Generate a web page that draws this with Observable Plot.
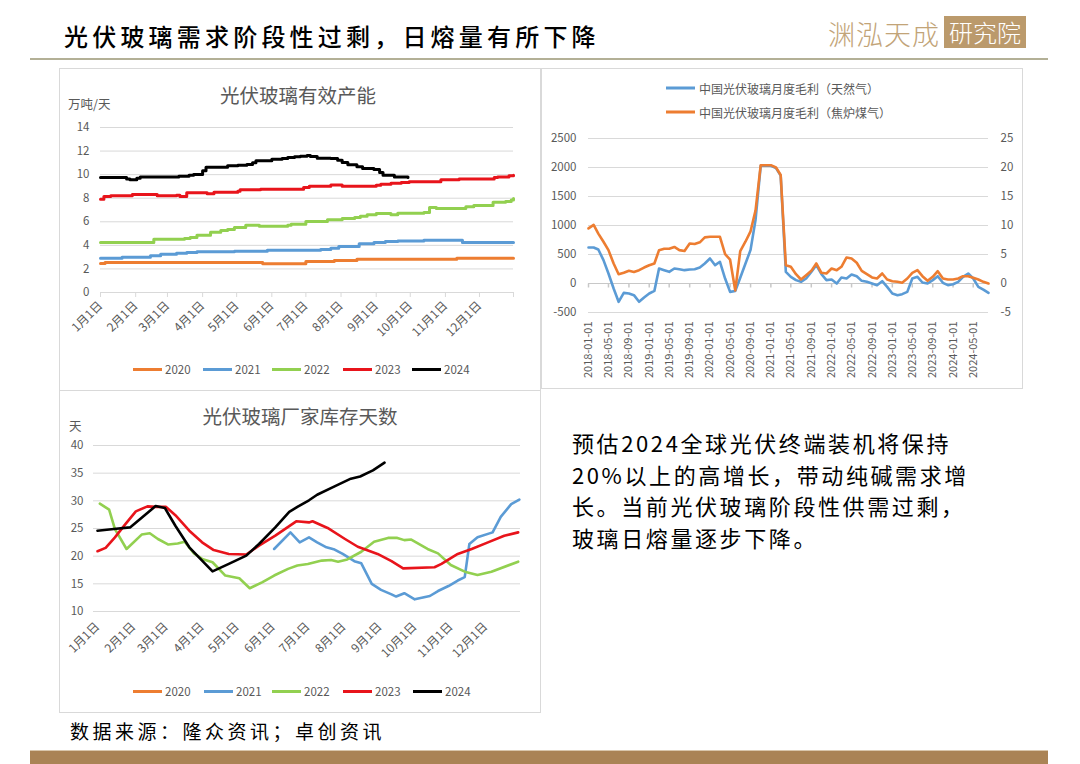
<!DOCTYPE html>
<html><head><meta charset="utf-8">
<script src="https://cdn.jsdelivr.net/npm/d3@7"></script>
<script src="https://cdn.jsdelivr.net/npm/@observablehq/plot@0.6"></script>
<style>
html,body{margin:0;padding:0;background:#fff}
body{width:1080px;height:764px;position:relative;overflow:hidden;font-family:"Noto Sans CJK SC","Noto Sans",sans-serif;color:#000}
.abs{position:absolute;white-space:nowrap}
.panel{position:absolute;border:1px solid #d9d9d9;box-sizing:border-box;background:#fff}
.chart{position:absolute}
.ctitle{position:absolute;font-size:19.5px;color:#595959;transform:translate(-50%,-50%);white-space:nowrap}
.unit{position:absolute;font-size:12.5px;color:#595959;transform:translateY(-50%);white-space:nowrap}
.leg{position:absolute;font-size:11.5px;color:#595959;white-space:nowrap;transform:translateY(-50%);display:flex;align-items:center}
.leg i{display:inline-block;width:29px;height:3px;margin-right:3px}
</style></head>
<body>
<script>
// ---------- data ----------
const pageTitle = "光伏玻璃需求阶段性过剩，日熔量有所下降";
const logoMain = "渊泓天成";
const logoBox = "研究院";
const sourceText = "数据来源：隆众资讯；卓创资讯";
const noteLines = ["预估2024全球光伏终端装机将保持","20%以上的高增长，带动纯碱需求增","长。当前光伏玻璃阶段性供需过剩，","玻璃日熔量逐步下降。"];

const monthLabels = ["1月1日","2月1日","3月1日","4月1日","5月1日","6月1日","7月1日","8月1日","9月1日","10月1日","11月1日","12月1日"];
const yearNames = ["2020","2021","2022","2023","2024"];
const yearColors = ["#ed7d31","#5b9bd5","#92d050","#e8141b","#000000"];

// Chart 1: 光伏玻璃有效产能 (万吨/天)
const cap1Title = "光伏玻璃有效产能";
const cap1Unit = "万吨/天";
const cap1Ticks = [0,2,4,6,8,10,12,14];
const cap2020 = [["01-01",2.46],["01-05",2.55],["05-24",2.43],["07-01",2.63],["07-26",2.72],["08-15",2.83],["11-11",2.91],["12-31",2.91]];
const cap2021 = [["01-01",2.91],["01-20",3.0],["02-14",3.11],["02-23",3.25],["03-09",3.34],["03-18",3.39],["03-27",3.45],["04-29",3.5],["05-28",3.59],["07-14",3.65],["07-23",3.76],["07-30",3.9],["08-17",4.13],["08-30",4.24],["09-09",4.33],["09-20",4.38],["10-13",4.44],["11-16",4.24],["12-31",4.24]];
const cap2022 = [["01-01",4.24],["02-17",4.52],["03-16",4.58],["03-21",4.67],["03-27",4.86],["04-08",5.12],["04-17",5.26],["04-23",5.35],["04-29",5.51],["05-09",5.71],["05-21",5.63],["06-15",5.71],["06-18",5.8],["07-01",6.02],["07-20",6.17],["08-02",6.28],["08-13",6.36],["08-18",6.48],["08-24",6.59],["09-01",6.7],["09-14",6.59],["09-20",6.73],["10-13",6.79],["10-18",7.21],["10-24",7.13],["11-19",7.27],["11-26",7.38],["12-13",7.66],["12-24",7.72],["12-29",7.85],["12-31",7.97]];
const cap2023 = [["01-01",7.92],["01-04",8.14],["01-10",8.2],["01-29",8.31],["02-20",8.2],["03-09",8.26],["03-12",8.14],["03-18",8.46],["04-05",8.37],["04-11",8.51],["05-02",8.6],["05-04",8.71],["05-22",8.77],["06-29",8.91],["07-04",9.02],["07-23",9.13],["08-02",9.02],["09-01",9.1],["09-05",9.19],["09-14",9.28],["09-23",9.33],["09-30",9.39],["10-28",9.56],["11-13",9.64],["12-14",9.76],["12-17",9.81],["12-27",9.9],["12-31",9.95]];
const cap2024 = [["01-01",9.76],["01-24",9.64],["01-27",9.56],["02-02",9.7],["02-05",9.81],["03-11",9.87],["03-20",9.95],["03-24",10.01],["04-01",10.32],["04-04",10.63],["04-23",10.75],["05-02",10.8],["05-10",10.86],["05-15",11.0],["05-18",11.17],["06-01",11.31],["06-10",11.37],["06-15",11.45],["06-21",11.51],["06-26",11.57],["07-02",11.62],["07-05",11.54],["07-11",11.4],["07-23",11.37],["07-29",11.23],["08-02",11.03],["08-07",10.83],["08-15",10.66],["08-20",10.52],["08-30",10.44],["09-04",10.18],["09-07",9.95],["09-17",9.81],["09-29",9.76]];

// Chart 2: 月度毛利
const marginLegend = ["中国光伏玻璃月度毛利（天然气）","中国光伏玻璃月度毛利（焦炉煤气）"];
const marginColors = ["#5b9bd5","#ed7d31"];
const marginLeftTicks = [-500,0,500,1000,1500,2000,2500];
const marginStart = "2018-01-01";
const marginLabelTicks = ["2018-01-01","2018-05-01","2018-09-01","2019-01-01","2019-05-01","2019-09-01","2020-01-01","2020-05-01","2020-09-01","2021-01-01","2021-05-01","2021-09-01","2022-01-01","2022-05-01","2022-09-01","2023-01-01","2023-05-01","2023-09-01","2024-01-01","2024-05-01"];
// natural gas (left axis), monthly 2018-01 .. 2024-08
const gasMargin = [621,621,587,403,173,-86,-316,-161,-172,-201,-316,-241,-172,-127,259,230,201,259,247,230,241,247,276,345,431,316,374,86,-144,-130,100,340,580,1100,2030,2030,2030,1990,1860,201,115,58,29,86,201,316,161,58,69,0,104,86,155,126,46,29,0,-29,40,-58,-172,-201,-184,-144,86,115,17,0,58,126,12,-29,-12,29,115,173,86,-58,-104,-161];
// coke-oven gas (right axis)
const cokeMargin = [9.5,10.1,8.6,7.2,5.75,3.45,1.6,1.85,2.2,2.0,2.3,2.75,3.15,3.45,5.75,6.0,6.0,6.3,5.75,5.6,6.9,6.8,7.1,7.95,8.05,8.05,8.05,5.05,4.1,-1.2,5.6,7.2,9.0,12.6,20.4,20.4,20.4,20.0,18.7,3.16,2.88,1.61,0.69,1.44,2.18,3.45,1.84,1.73,2.59,2.3,2.88,4.49,4.31,3.57,2.18,1.61,1.04,0.86,1.73,0.69,0.4,0.29,0.12,0.86,1.84,2.3,1.26,0.46,1.15,2.13,0.86,0.69,0.69,0.86,1.26,1.26,0.98,0.69,0.29,0.0];

// Chart 3: 光伏玻璃厂家库存天数 (天)
const inv3Title = "光伏玻璃厂家库存天数";
const inv3Unit = "天";
const inv3Ticks = [10,15,20,25,30,35,40];
const inv2020 = [];
const inv2021 = [["06-02",21.3],["06-16",24.3],["06-24",22.5],["07-02",23.4],["07-09",22.5],["07-17",21.6],["07-24",21.2],["07-31",20.4],["08-10",19.1],["08-16",18.7],["08-25",15.0],["09-02",13.9],["09-11",13.1],["09-15",12.7],["09-22",13.3],["10-01",12.2],["10-14",12.8],["10-21",13.7],["10-30",14.6],["11-07",15.6],["11-13",16.2],["11-17",22.2],["11-24",23.4],["12-07",24.3],["12-14",27.1],["12-23",29.4],["12-30",30.2]];
const inv2022 = [["01-03",29.5],["01-11",28.4],["01-16",24.9],["01-26",21.3],["02-08",23.9],["02-15",24.15],["02-22",23.1],["03-03",22.1],["03-11",22.3],["03-17",22.6],["03-25",20.5],["04-01",19.5],["04-10",18.9],["04-21",16.5],["05-03",16.0],["05-12",14.2],["05-23",15.3],["06-02",16.5],["06-14",17.7],["06-22",18.3],["07-01",18.6],["07-13",19.2],["07-21",19.3],["07-27",19.0],["08-04",19.4],["08-16",20.8],["08-27",22.6],["09-08",23.3],["09-16",23.3],["09-22",22.9],["09-28",23.0],["10-12",21.3],["10-21",20.5],["11-01",18.4],["11-13",17.2],["11-24",16.6],["12-06",17.2],["12-29",19.0]];
const inv2023 = [["01-01",20.9],["01-08",21.5],["01-16",23.4],["01-25",25.8],["02-03",28.1],["02-13",29.0],["02-20",28.9],["03-01",28.9],["03-09",27.4],["03-21",24.6],["04-01",22.5],["04-11",21.1],["04-24",20.4],["05-09",20.3],["05-20",21.9],["06-03",23.7],["06-21",26.3],["07-02",26.1],["07-05",26.3],["07-18",25.1],["08-02",23.1],["08-13",21.7],["08-30",20.4],["09-11",19.1],["09-21",17.8],["10-18",18.0],["10-24",18.6],["11-07",20.4],["11-19",21.3],["12-03",22.5],["12-17",23.7],["12-29",24.3]];
const inv2024 = [["01-01",24.6],["01-15",24.9],["01-29",25.2],["02-20",29.05],["02-28",28.7],["03-09",25.5],["03-21",21.6],["04-01",19.2],["04-10",17.25],["04-24",18.6],["05-09",20.1],["05-20",22.2],["06-03",25.2],["06-15",28.0],["06-22",28.9],["07-02",30.1],["07-09",31.1],["07-24",32.6],["08-07",34.0],["08-15",34.4],["08-26",35.5],["09-05",36.9]];

// ---------- helpers ----------
const md = s => new Date(Date.UTC(2021, +s.slice(0,2) - 1, +s.slice(3,5)));
const monthTicks = monthLabels.map((_, i) => new Date(Date.UTC(2021, i, 1)));
const yearEnd = md("12-31");
const fmtMonth = d => monthLabels[d.getUTCMonth()];
const FONT = '"Noto Sans CJK SC","Noto Sans",sans-serif';
const GRID = "#d9d9d9", TXT = "#595959";

function addEl(html, css, cls){ const e=document.createElement("div"); if(cls) e.className=cls; e.innerHTML=html; Object.assign(e.style, css); document.body.appendChild(e); return e; }
function place(svg, left, top){ const w=document.createElement("div"); w.className="chart"; w.style.left=left+"px"; w.style.top=top+"px"; w.appendChild(svg); document.body.appendChild(w); }

// ---------- page chrome ----------
addEl(pageTitle, {left:"64px", top:"35px", transform:"translateY(-50%)", fontSize:"24px", letterSpacing:"4.2px", fontWeight:"500"}, "abs");
addEl(logoMain, {left:"828px", top:"33px", transform:"translateY(-50%)", fontSize:"27px", letterSpacing:"1px", color:"#c2a478", fontWeight:"300"}, "abs");
addEl(logoBox, {left:"944px", top:"16px", width:"82px", height:"32px", lineHeight:"32px", textAlign:"center", fontSize:"24px", color:"#fff", background:"#bb9a6c", fontWeight:"300"}, "abs");
addEl("", {left:"30px", top:"58px", width:"1018px", height:"2px", background:"#b3b096"}, "abs");
addEl("", {left:"30px", top:"750px", width:"1018px", height:"14px", background:"#aa8355", borderTop:"1px solid #d9c6ab"}, "abs");
addEl(sourceText, {left:"70px", top:"730px", transform:"translateY(-50%)", fontSize:"19px", letterSpacing:"3.5px"}, "abs");
addEl(noteLines.join("<br>"), {left:"572px", top:"427px", fontSize:"22px", lineHeight:"31.5px", letterSpacing:"2.6px"}, "abs");

// panels
addEl("", {left:"59px", top:"68px", width:"482px", height:"323px"}, "panel");
addEl("", {left:"541px", top:"68px", width:"482px", height:"321px"}, "panel");
addEl("", {left:"59px", top:"390px", width:"482px", height:"323px"}, "panel");

// ---------- chart 1 ----------
const capSeries = [cap2020, cap2021, cap2022, cap2023, cap2024];
const c1 = Plot.plot({
  width: 481, height: 322, marginLeft: 40, marginRight: 28, marginTop: 59, marginBottom: 98,
  style: {fontFamily: FONT, fontSize: "11px", color: TXT, background: "transparent", overflow: "visible"},
  x: {type: "utc", domain: [md("01-01"), yearEnd]},
  y: {domain: [0, 14]},
  marks: [
    Plot.gridY(cap1Ticks, {stroke: GRID, strokeOpacity: 1}),
    Plot.axisY(cap1Ticks, {tickSize: 0, tickPadding: 11, label: null, fill: TXT, fontSize: 11.5}),
    Plot.axisX([...monthTicks, yearEnd], {tickSize: 5, tickFormat: () => "", label: null, stroke: GRID}),
    Plot.axisX(monthTicks, {tickSize: 0, tickPadding: 11, tickRotate: -45, tickFormat: fmtMonth, label: null, fill: TXT, fontSize: 12}),
    ...capSeries.map((s, k) => Plot.line(s, {x: d => md(d[0]), y: d => d[1], curve: "step-after", stroke: yearColors[k], strokeWidth: 3}))
  ]
});
place(c1, 60, 68);
addEl(cap1Title, {left:"298px", top:"94px"}, "ctitle");
addEl(cap1Unit, {left:"68px", top:"103px"}, "unit");
const legX = [133, 203, 272, 343, 412];
yearNames.forEach((n, k) => addEl(`<i style="background:${yearColors[k]}"></i>${n}`, {left: legX[k]+"px", top:"369px"}, "leg"));

// ---------- chart 2 ----------
const start = new Date(marginStart + "T00:00:00Z");
const monthsAll = gasMargin.map((_, i) => d3.utcMonth.offset(start, i));
const gasData = gasMargin.map((v, i) => ({date: monthsAll[i], v}));
const cokeData = cokeMargin.map((v, i) => ({date: monthsAll[i], v}));
const labelDates = marginLabelTicks.map(s => new Date(s + "T00:00:00Z"));
const tickSym = {draw(ctx){ ctx.moveTo(0, 0); ctx.lineTo(0, 4); }};
const c2 = Plot.plot({
  width: 481, height: 320, marginLeft: 47, marginRight: 34, marginTop: 70, marginBottom: 76,
  style: {fontFamily: FONT, fontSize: "11px", color: TXT, background: "transparent", overflow: "visible"},
  x: {type: "utc", domain: [monthsAll[0], monthsAll[monthsAll.length - 1]]},
  y: {domain: [-500, 2500]},
  marks: [
    Plot.gridY(marginLeftTicks, {stroke: GRID, strokeOpacity: 1}),
    Plot.ruleY([0], {stroke: "#c8c8c8"}),
    Plot.dot(labelDates, {x: d => d, y: () => 0, symbol: tickSym, stroke: "#c8c8c8", fill: "none", r: 2}),
    Plot.axisY(marginLeftTicks, {anchor: "left", tickSize: 0, tickPadding: 12, label: null, fill: TXT, tickFormat: d => String(d), fontSize: 11.5}),
    Plot.axisY(marginLeftTicks, {anchor: "right", tickSize: 0, tickPadding: 12, label: null, fill: TXT, tickFormat: d => String(d / 100), fontSize: 11.5}),
    Plot.axisX(labelDates, {tickSize: 0, tickPadding: 9, tickRotate: -90, tickFormat: d3.utcFormat("%Y-%m-%d"), label: null, fill: TXT}),
    Plot.line(gasData, {x: "date", y: "v", stroke: marginColors[0], strokeWidth: 2.6}),
    Plot.line(cokeData, {x: "date", y: d => d.v * 100, stroke: marginColors[1], strokeWidth: 2.6})
  ]
});
place(c2, 541, 68);
marginLegend.forEach((n, k) => addEl(`<i style="background:${marginColors[k]};width:29px;height:3px;margin-right:4px"></i>${n}`, {left:"666px", top:(88 + k*24)+"px", fontSize:"12px"}, "leg"));

// ---------- chart 3 ----------
const invSeries = [inv2020, inv2021, inv2022, inv2023, inv2024];
const c3 = Plot.plot({
  width: 481, height: 322, marginLeft: 37, marginRight: 21, marginTop: 55, marginBottom: 101,
  style: {fontFamily: FONT, fontSize: "11px", color: TXT, background: "transparent", overflow: "visible"},
  x: {type: "utc", domain: [md("01-01"), yearEnd]},
  y: {domain: [10, 40]},
  marks: [
    Plot.gridY(inv3Ticks, {stroke: GRID, strokeOpacity: 1, insetLeft: -4}),
    Plot.axisY(inv3Ticks, {tickSize: 0, tickPadding: 14, label: null, fill: TXT, fontSize: 11.5}),
    Plot.axisX(monthTicks, {tickSize: 0, tickPadding: 13, tickRotate: -45, tickFormat: fmtMonth, label: null, fill: TXT, fontSize: 12}),
    ...invSeries.map((s, k) => Plot.line(s, {x: d => md(d[0]), y: d => d[1], stroke: yearColors[k], strokeWidth: 2.6}))
  ]
});
place(c3, 60, 390);
addEl(inv3Title, {left:"300px", top:"415px"}, "ctitle");
addEl(inv3Unit, {left:"69px", top:"425px"}, "unit");
const legX3 = [133, 204, 272, 343, 413];
yearNames.forEach((n, k) => addEl(`<i style="background:${yearColors[k]}"></i>${n}`, {left: legX3[k]+"px", top:"691px"}, "leg"));
</script>
</body></html>
